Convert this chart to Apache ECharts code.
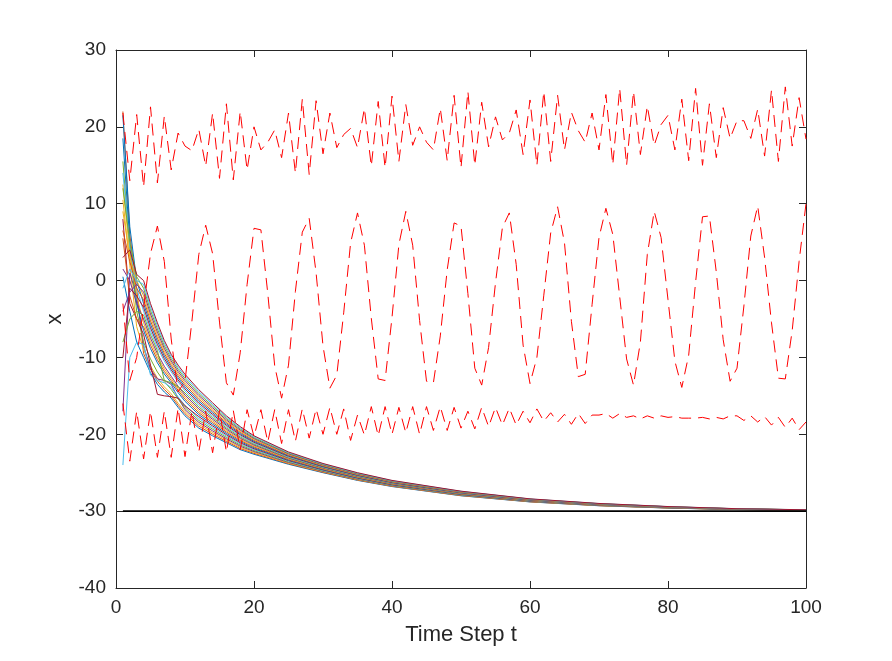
<!DOCTYPE html>
<html>
<head>
<meta charset="utf-8">
<script src="https://cdn.jsdelivr.net/npm/echarts@6/dist/echarts.min.js"></script>
<style>html,body{margin:0;padding:0;background:#fff}#c{width:892px;height:661px}</style>
</head>
<body>
<div id="c"></div>
<script>
// time steps of the red dashed references (t = 1..100)
const tRef = [1,2,3,4,5,6,7,8,9,10,11,12,13,14,15,16,17,18,19,20,21,22,23,24,25,26,27,28,29,30,31,32,33,34,35,36,37,38,39,40,41,42,43,44,45,46,47,48,49,50,51,52,53,54,55,56,57,58,59,60,61,62,63,64,65,66,67,68,69,70,71,72,73,74,75,76,77,78,79,80,81,82,83,84,85,86,87,88,89,90,91,92,93,94,95,96,97,98,99,100];
const redTop = [21.8,13.0,21.6,12.2,22.6,12.7,21.4,14.4,19.2,17.5,16.9,19.7,14.9,21.8,13.3,23.0,13.1,22.0,14.4,20.0,17.0,18.0,19.6,16.0,21.8,14.0,23.6,13.8,23.4,16.5,21.8,17.3,19.0,19.8,17.3,22.4,14.9,23.3,14.7,24.0,15.5,22.9,17.6,20.0,18.0,17.0,22.4,15.6,24.1,14.7,24.6,15.0,23.2,17.4,21.3,18.3,19.2,22.2,16.4,23.5,15.0,24.6,15.5,24.1,17.0,21.9,19.5,18.0,21.8,17.0,24.2,15.1,25.0,15.0,24.6,16.4,22.7,17.6,20.3,21.5,17.0,23.6,15.6,25.0,15.0,23.0,16.0,22.5,18.5,20.8,20.8,18.5,22.3,16.2,24.8,15.5,25.2,17.5,23.8,18.4];
const redMid = [-3.0,-13.0,-10.0,-3.5,3.5,7.1,2.5,-7.6,-14.5,-13.1,-5.3,3.4,7.2,3.5,-5.4,-13.3,-14.9,-9.4,-0.5,6.8,6.6,-1.7,-11.1,-15.3,-11.0,-1.4,6.3,8.1,1.0,-8.5,-14.0,-12.3,-4.2,4.9,8.8,4.6,-4.9,-12.8,-13.0,-4.8,4.7,9.0,4.6,-5.2,-13.1,-13.3,-7.2,1.4,7.5,7.1,-1.7,-11.4,-13.6,-8.7,-0.3,6.9,8.8,2.1,-8.4,-13.4,-10.0,-1.9,6.2,9.6,4.9,-5.3,-12.5,-12.2,-3.1,5.6,9.4,6.0,-2.1,-10.2,-13.6,-8.0,3.4,9.0,5.6,-2.5,-10.5,-13.9,-9.7,-0.2,8.3,8.4,1.1,-7.7,-13.1,-11.4,-3.3,5.8,9.7,3.0,-5.5,-12.7,-12.8,-6.5,2.5,10.0];
const redLow = [-16.0,-23.5,-17.0,-23.2,-17.0,-23.0,-17.0,-23.0,-16.6,-22.9,-17.0,-22.3,-17.0,-22.4,-16.9,-22.3,-16.9,-22.0,-16.8,-20.3,-16.8,-21.0,-16.8,-21.2,-16.8,-20.9,-16.7,-20.5,-16.7,-20.0,-16.5,-20.0,-16.7,-20.8,-17.5,-20.1,-16.4,-20.2,-16.4,-20.0,-16.5,-19.8,-16.4,-20.0,-16.4,-19.5,-16.4,-19.5,-16.5,-19.2,-17.0,-19.3,-16.5,-19.0,-16.5,-18.8,-16.6,-18.8,-17.0,-18.5,-16.7,-18.3,-17.2,-18.4,-17.4,-18.7,-17.3,-18.6,-17.5,-17.5,-17.3,-17.9,-17.3,-17.8,-17.6,-18.0,-17.6,-17.9,-17.6,-17.8,-17.7,-17.9,-17.9,-17.9,-17.8,-18.0,-17.8,-18.0,-17.6,-17.6,-18.2,-17.6,-18.4,-17.7,-18.8,-17.8,-19.1,-17.9,-19.4,-18.4];

// agent trajectories, sampled at these time steps
const tAgent = [1,2,3,4,5,6,7,8,9,10,12,14,16,18,20,25,30,35,40,50,60,70,80,90,100];
const a0  = [0.5,-4,-8,-10,-12,-13.5,-14.5,-15.3,-16.5,-17.6,-19.2,-20.2,-21.1,-22.0,-22.6,-23.9,-25.0,-26.0,-26.8,-28.0,-28.8,-29.3,-29.6,-29.8,-29.9];
const a1  = [22.0,6.0,-1.0,-9.5,-11.55,-13.1,-14.17,-15.02,-16.23,-17.33,-18.95,-19.99,-20.93,-21.85,-22.48,-23.82,-24.94,-25.95,-26.76,-27.97,-28.78,-29.285,-29.59,-29.794,-29.896];
const a2  = [10.5,2.0,-6.0,-9.0,-11.1,-12.7,-13.83,-14.73,-15.95,-17.06,-18.7,-19.77,-20.75,-21.7,-22.36,-23.74,-24.88,-25.9,-26.72,-27.94,-28.76,-29.27,-29.58,-29.788,-29.892];
const a3  = [-17.0,1.0,-2.0,-8.5,-11.5,-12.8,-13.0,-13.5,-15.3,-16.79,-18.45,-19.56,-20.58,-21.55,-22.24,-23.66,-24.82,-25.85,-26.68,-27.91,-28.74,-29.255,-29.57,-29.782,-29.888];
const a4  = [15.5,4.0,-4.0,-8.0,-10.2,-11.9,-13.16,-14.16,-15.4,-16.52,-18.2,-19.34,-20.4,-21.4,-22.12,-23.58,-24.76,-25.8,-26.64,-27.88,-28.72,-29.24,-29.56,-29.776,-29.884];
const a5  = [-24.0,-10.0,-8.0,-8.3,-12.3,-13.0,-13.3,-13.9,-15.13,-16.25,-17.95,-19.13,-20.23,-21.25,-22.0,-23.5,-24.7,-25.75,-26.6,-27.85,-28.7,-29.225,-29.55,-29.77,-29.88];
const a6  = [8.0,-3.0,-5.0,-7.0,-11.0,-14.8,-15.0,-15.1,-15.3,-16.3,-17.7,-18.91,-20.05,-21.1,-21.88,-23.42,-24.64,-25.7,-26.56,-27.82,-28.68,-29.21,-29.54,-29.764,-29.876];
const a7  = [18.5,5.0,-3.0,-6.5,-8.85,-10.7,-12.16,-13.31,-14.58,-15.71,-17.45,-18.7,-19.88,-20.95,-21.76,-23.34,-24.58,-25.65,-26.52,-27.79,-28.66,-29.195,-29.53,-29.758,-29.872];
const a8  = [5.5,-2.0,-5.0,-6.0,-8.4,-10.3,-11.82,-13.02,-14.3,-15.44,-17.2,-18.48,-19.7,-20.8,-21.64,-23.26,-24.52,-25.6,-26.48,-27.76,-28.64,-29.18,-29.52,-29.752,-29.868];
const a9  = [12.5,3.5,-2.0,-5.5,-7.95,-9.9,-11.49,-12.74,-14.03,-15.17,-16.95,-18.27,-19.53,-20.65,-21.52,-23.18,-24.46,-25.55,-26.44,-27.73,-28.62,-29.165,-29.51,-29.746,-29.864];
const a10 = [1.5,0.0,-3.0,-5.0,-7.5,-9.5,-11.15,-12.45,-13.75,-14.9,-16.7,-18.05,-19.35,-20.5,-21.4,-23.1,-24.4,-25.5,-26.4,-27.7,-28.6,-29.15,-29.5,-29.74,-29.86];
const a11 = [-8.0,-5.0,-4.0,-4.5,-7.05,-9.1,-13.0,-13.3,-13.8,-14.63,-16.45,-17.84,-19.18,-20.35,-21.28,-23.02,-24.34,-25.45,-26.36,-27.67,-28.58,-29.135,-29.49,-29.734,-29.856];
const a12 = [14.0,4.5,-1.0,-4.0,-6.6,-8.7,-10.48,-11.88,-13.2,-14.36,-16.2,-17.62,-19.0,-20.2,-21.16,-22.94,-24.28,-25.4,-26.32,-27.64,-28.56,-29.12,-29.48,-29.728,-29.852];
const a13 = [-10.0,-1.0,-2.0,-3.5,-6.15,-8.3,-10.15,-11.6,-12.93,-14.09,-15.95,-17.41,-18.83,-20.05,-21.04,-22.86,-24.22,-25.35,-26.28,-27.61,-28.54,-29.105,-29.47,-29.722,-29.848];
const a14 = [21.5,7.0,0.0,-3.0,-5.7,-7.9,-9.81,-11.31,-12.65,-13.82,-15.7,-17.19,-18.65,-19.9,-20.92,-22.78,-24.16,-25.3,-26.24,-27.58,-28.52,-29.09,-29.46,-29.716,-29.844];
const a15 = [6.5,2.5,-1.0,-2.5,-5.25,-7.5,-9.48,-11.03,-12.38,-13.55,-15.45,-16.98,-18.48,-19.75,-20.8,-22.7,-24.1,-25.25,-26.2,-27.55,-28.5,-29.075,-29.45,-29.71,-29.84];
const a16 = [9.0,3.0,0.0,-2.0,-4.8,-7.1,-9.14,-10.74,-12.1,-13.28,-15.2,-16.76,-18.3,-19.6,-20.68,-22.62,-24.04,-25.2,-26.16,-27.52,-28.48,-29.06,-29.44,-29.704,-29.836];
const a17 = [-4.0,-1.5,-0.5,-1.5,-4.35,-6.7,-8.81,-10.46,-11.83,-13.01,-14.95,-16.55,-18.13,-19.45,-20.56,-22.54,-23.98,-25.15,-26.12,-27.49,-28.46,-29.045,-29.43,-29.698,-29.832];
const a18 = [12.0,5.0,0.5,-1.0,-3.9,-6.3,-8.47,-10.17,-11.55,-12.74,-14.7,-16.33,-17.95,-19.3,-20.44,-22.46,-23.92,-25.1,-26.08,-27.46,-28.44,-29.03,-29.42,-29.692,-29.828];
const a19 = [-1.0,1.5,0.0,-0.5,-3.45,-5.9,-8.14,-9.89,-11.28,-12.47,-14.45,-16.12,-17.78,-19.15,-20.32,-22.38,-23.86,-25.05,-26.04,-27.43,-28.42,-29.015,-29.41,-29.686,-29.824];
const a20 = [3.0,4.0,0.8,0.0,-3.0,-5.5,-7.8,-9.6,-11.0,-12.2,-14.2,-15.9,-17.6,-19.0,-20.2,-22.3,-23.8,-25.0,-26.0,-27.4,-28.4,-29.0,-29.4,-29.68,-29.82];
const agents = [a0,a1,a2,a3,a4,a5,a6,a7,a8,a9,a10,a11,a12,a13,a14,a15,a16,a17,a18,a19,a20];

// target line
const tTarget = [1, 100];
const vTarget = [-30, -30];

const xTicks = {min: 0, max: 100, interval: 20};
const yTicks = {min: -40, max: 30, interval: 10};

const palette = ['#0072BD','#D95319','#EDB120','#7E2F8E','#77AC30','#4DBEEE','#A2142F'];
const axisCol = '#262626';
const font = 'Liberation Sans, Arial, Helvetica, sans-serif';

const zip = (xs, ys) => xs.map((x, i) => [x, ys[i]]);

const series = [];
agents.forEach((a, i) => {
  series.push({type:'line', data: zip(tAgent, a), showSymbol:false, symbol:'none',
    lineStyle:{color: palette[i % 7], width:1}, silent:true, z:2});
});
[redTop, redMid, redLow].forEach(r => {
  series.push({type:'line', data: zip(tRef, r), showSymbol:false, symbol:'none',
    lineStyle:{color:'#FF0000', width:1, type:[12,7]}, silent:true, z:3});
});
series.push({type:'line', data: zip(tTarget, vTarget), showSymbol:false, symbol:'none',
  lineStyle:{color:'#000000', width:1.6}, silent:true, z:4});

const baseAxis = (pos, showLabel) => ({
  type:'value', position: pos,
  axisLine:{show:true, onZero:false, lineStyle:{color:axisCol, width:1}},
  axisTick:{show:true, inside:true, length:7, lineStyle:{color:axisCol, width:1}},
  axisLabel:{show:showLabel, color:axisCol, fontSize:19, fontFamily:font, margin:10},
  splitLine:{show:false}
});

const chart = echarts.init(document.getElementById('c'), null, {renderer:'canvas'});
chart.setOption({
  animation:false,
  backgroundColor:'#ffffff',
  grid:{left:116, right:86, top:50, bottom:73, containLabel:false},
  xAxis:[
    Object.assign(baseAxis('bottom', true), xTicks, {name:'Time Step t', nameLocation:'middle', nameGap:36,
      nameTextStyle:{color:axisCol, fontSize:22, fontFamily:font}}),
    Object.assign(baseAxis('top', false), xTicks)
  ],
  yAxis:[
    Object.assign(baseAxis('left', true), yTicks, {name:'x', nameLocation:'middle', nameGap:50,
      nameTextStyle:{color:axisCol, fontSize:22, fontFamily:font}}),
    Object.assign(baseAxis('right', false), yTicks)
  ],
  series: series
});
</script>
</body>
</html>
